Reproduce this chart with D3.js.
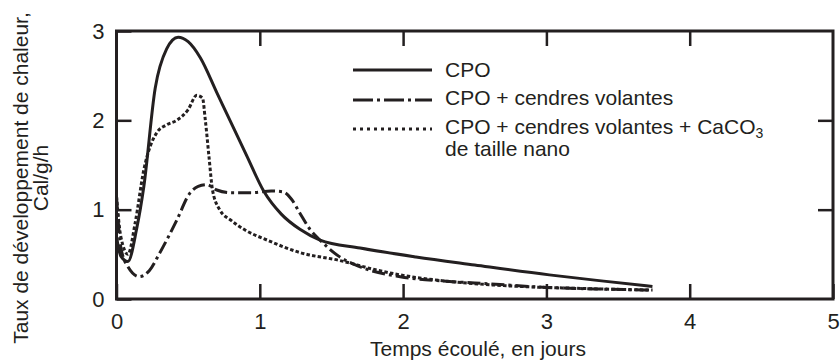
<!DOCTYPE html>
<html>
<head>
<meta charset="utf-8">
<script src="https://cdn.jsdelivr.net/npm/d3@7"></script>
<style>
  body { margin: 0; background: #fff; }
  svg { display: block; font-family: "Liberation Sans", Arial, sans-serif; }
  .tick text { font-size: 22px; fill: #231f20; }
  .tick line { stroke: #231f20; stroke-width: 2.5; }
  .label { font-size: 21px; fill: #231f20; }
  .curve { fill: none; stroke: #231f20; stroke-width: 3; }
</style>
</head>
<body>
<div id="chart"></div>
<script>
// Values (days, Cal/g/h)
const cpoDays = [0, 0.03, 0.08, 0.14, 0.19, 0.27, 0.35, 0.43, 0.5, 0.585, 0.7, 0.815, 0.91, 1.03, 1.15, 1.28, 1.42, 1.7, 2.09, 2.5, 3.02, 3.4, 3.74];
const cpoRate = [0.7, 0.48, 0.42, 0.78, 1.25, 2.36, 2.8, 2.93, 2.88, 2.7, 2.31, 1.92, 1.6, 1.2, 0.95, 0.78, 0.66, 0.57, 0.47, 0.38, 0.27, 0.2, 0.14];

const ashDays = [0, 0.03, 0.08, 0.16, 0.23, 0.3, 0.42, 0.51, 0.57, 0.63, 0.7, 0.8, 0.95, 1.08, 1.16, 1.22, 1.28, 1.35, 1.42, 1.55, 1.7, 1.98, 2.3, 2.6, 3.0, 3.4, 3.74];
const ashRate = [1.15, 0.58, 0.36, 0.25, 0.32, 0.51, 0.88, 1.18, 1.26, 1.28, 1.22, 1.19, 1.19, 1.21, 1.2, 1.12, 0.96, 0.78, 0.66, 0.48, 0.36, 0.25, 0.2, 0.17, 0.13, 0.11, 0.1];

const nanoDays = [0, 0.03, 0.08, 0.13, 0.19, 0.28, 0.35, 0.42, 0.5, 0.56, 0.6, 0.62, 0.645, 0.67, 0.72, 0.8, 0.9, 1.05, 1.28, 1.56, 1.8, 1.98, 2.3, 2.7, 3.2, 3.74];
const nanoRate = [1.15, 0.7, 0.5, 0.85, 1.44, 1.86, 1.95, 2.0, 2.12, 2.28, 2.25, 2.0, 1.6, 1.22, 1.0, 0.88, 0.77, 0.66, 0.52, 0.43, 0.33, 0.27, 0.2, 0.15, 0.12, 0.1];

const xTicks = [0, 1, 2, 3, 4, 5];
const yTicks = [0, 1, 2, 3];

const seriesNames = [
  'CPO',
  'CPO + cendres volantes',
  'CPO + cendres volantes + CaCO'
];

const width = 840;
const height = 360;
const ink = '#231f20';

const svg = d3.select('#chart').append('svg')
  .attr('width', width)
  .attr('height', height);

const x = d3.scaleLinear().domain([0, 5]).range([116.5, 833]);
const y = d3.scaleLinear().domain([0, 3]).range([299, 31]);

// Inward ticks on all four sides, labels only bottom and left
svg.append('g')
  .attr('transform', `translate(0,${y(0)})`)
  .call(d3.axisBottom(x).tickValues(xTicks).tickFormat(d3.format('d'))
    .tickSizeInner(-15).tickSizeOuter(0).tickPadding(14))
  .call(g => g.select('.domain').remove());

svg.append('g')
  .attr('transform', `translate(${x(0)},0)`)
  .call(d3.axisLeft(y).tickValues(yTicks).tickFormat(d3.format('d'))
    .tickSizeInner(-15).tickSizeOuter(0).tickPadding(12))
  .call(g => g.select('.domain').remove());

svg.append('g')
  .attr('transform', `translate(0,${y(3)})`)
  .call(d3.axisTop(x).tickValues([1, 2, 3, 4]).tickSizeInner(-15).tickSizeOuter(0).tickFormat(''))
  .call(g => g.select('.domain').remove());

svg.append('g')
  .attr('transform', `translate(${x(5)},0)`)
  .call(d3.axisRight(y).tickValues([1, 2]).tickSizeInner(-15).tickSizeOuter(0).tickFormat(''))
  .call(g => g.select('.domain').remove());

svg.selectAll('.tick text').attr('font-family', null).attr('font-size', null);

// Plot frame
svg.append('rect')
  .attr('x', x(0))
  .attr('y', y(3))
  .attr('width', x(5) - x(0))
  .attr('height', y(0) - y(3))
  .attr('fill', 'none')
  .attr('stroke', ink)
  .attr('stroke-width', 3);

// Curves
const line = d3.line()
  .x(d => x(d[0]))
  .y(d => y(d[1]))
  .curve(d3.curveMonotoneX);

const series = [
  { days: cpoDays, rate: cpoRate, dash: null, legendDash: null },
  { days: ashDays, rate: ashRate, dash: '13,4,3,4', legendDash: '20,4,3,4' },
  { days: nanoDays, rate: nanoRate, dash: '3.5,2.2', legendDash: '3,4' }
];

series.forEach(s => {
  svg.append('path')
    .attr('class', 'curve')
    .attr('d', line(d3.zip(s.days, s.rate)))
    .attr('stroke-dasharray', s.dash);
});

// Legend
const legendY = [70, 100, 129];
const legendText = [77, 105, 134];

series.forEach((s, i) => {
  svg.append('line')
    .attr('x1', 353).attr('x2', 432)
    .attr('y1', legendY[i]).attr('y2', legendY[i])
    .attr('stroke', ink)
    .attr('stroke-width', 3)
    .attr('stroke-dasharray', s.legendDash);

  const t = svg.append('text')
    .attr('class', 'label')
    .attr('x', 445)
    .attr('y', legendText[i])
    .text(seriesNames[i]);

  if (i === 2) {
    t.append('tspan').attr('font-size', 14).attr('dy', 4).text('3');
  }
});

svg.append('text')
  .attr('class', 'label')
  .attr('x', 445)
  .attr('y', 156)
  .text('de taille nano');

// Axis titles
svg.append('text')
  .attr('class', 'label')
  .attr('x', 478)
  .attr('y', 356)
  .attr('text-anchor', 'middle')
  .text('Temps écoulé, en jours');

const yTitle = svg.append('g')
  .attr('transform', 'translate(0,178) rotate(-90)');

yTitle.append('text')
  .attr('class', 'label')
  .attr('y', 28)
  .attr('text-anchor', 'middle')
  .text('Taux de développement de chaleur,');

yTitle.append('text')
  .attr('class', 'label')
  .attr('y', 48)
  .attr('text-anchor', 'middle')
  .text('Cal/g/h');
</script>
</body>
</html>
